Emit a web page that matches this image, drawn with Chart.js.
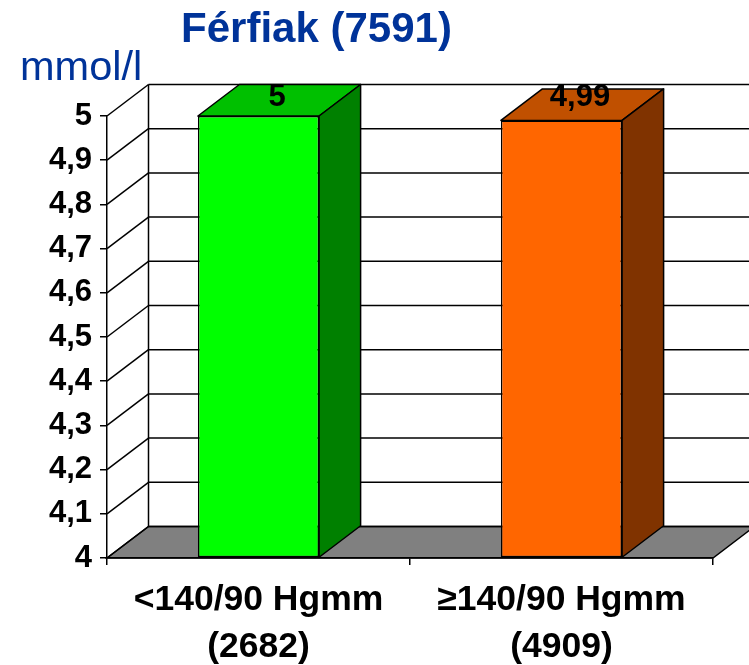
<!DOCTYPE html>
<html>
<head>
<meta charset="utf-8">
<title>Férfiak (7591)</title>
<style>
  html, body { margin: 0; padding: 0; background: #fff; overflow: hidden; }
  #wrap { width: 749px; height: 665px; }
</style>
<script src="https://cdn.jsdelivr.net/npm/chart.js@4/dist/chart.umd.min.js"></script>
</head>
<body>
<div id="wrap"><canvas id="chart" width="749" height="665"></canvas></div>
<script>
/* global Chart */

const chartTitle = 'Férfiak (7591)'
const unitLabel = 'mmol/l'
const categories = [['<140/90 Hgmm', '(2682)'], ['≥140/90 Hgmm', '(4909)']]
const values = [5, 4.99]
const valueLabels = ['5', '4,99']
const yTickLabels = ['4', '4,1', '4,2', '4,3', '4,4', '4,5', '4,6', '4,7', '4,8', '4,9', '5']

const FONT = '"Liberation Sans", Arial, sans-serif'
const BLUE = '#003399'
const FRONT = ['#00ff00', '#ff6600']
const TOP = ['#00c000', '#c05000']
const SIDE = ['#008000', '#803300']

// depth of the fake 3d box
const DX = 41.5
const DY = -31.5

function poly (ctx, pts, fill) {
  ctx.beginPath()
  pts.forEach((p, i) => i ? ctx.lineTo(p[0], p[1]) : ctx.moveTo(p[0], p[1]))
  ctx.closePath()
  if (fill) {
    ctx.fillStyle = fill
    ctx.fill()
  }
  ctx.stroke()
}

function line (ctx, x1, y1, x2, y2) {
  ctx.beginPath()
  ctx.moveTo(x1, y1)
  ctx.lineTo(x2, y2)
  ctx.stroke()
}

const box3d = {
  id: 'box3d',
  beforeDraw (chart) {
    const { ctx, chartArea: a, scales: { y } } = chart
    ctx.save()
    ctx.strokeStyle = '#000'
    ctx.lineWidth = 1.5
    // floor
    poly(ctx, [[a.left, a.bottom], [a.right, a.bottom], [a.right + DX, a.bottom + DY], [a.left + DX, a.bottom + DY]], '#808080')
    // side wall and back wall lines
    line(ctx, a.left + DX, a.top + DY, a.left + DX, a.bottom + DY)
    y.ticks.forEach(t => {
      const py = y.getPixelForValue(t.value)
      line(ctx, a.left, py, a.left + DX, py + DY)
      line(ctx, a.left + DX, py + DY, a.right + DX, py + DY)
    })
    ctx.restore()
  },
  beforeDatasetsDraw (chart) {
    const { ctx } = chart
    ctx.save()
    ctx.strokeStyle = '#000'
    ctx.lineWidth = 1.5
    ctx.lineJoin = 'round'
    chart.getDatasetMeta(0).data.forEach((bar, i) => {
      const l = bar.x - bar.width / 2
      const r = bar.x + bar.width / 2
      poly(ctx, [[l, bar.y], [r, bar.y], [r + DX, bar.y + DY], [l + DX, bar.y + DY]], TOP[i])
      poly(ctx, [[r, bar.y], [r + DX, bar.y + DY], [r + DX, bar.base + DY], [r, bar.base]], SIDE[i])
    })
    ctx.restore()
  },
  afterDraw (chart) {
    const { ctx, scales: { y } } = chart
    ctx.save()
    ctx.textBaseline = 'alphabetic'
    ctx.textAlign = 'center'
    ctx.fillStyle = '#000'
    ctx.font = 'bold 31px ' + FONT
    chart.getDatasetMeta(0).data.forEach((bar, i) => {
      ctx.fillText(valueLabels[i], bar.x + 18.5, y.getPixelForValue(5) - 10.5)
    })
    ctx.fillStyle = BLUE
    ctx.font = 'bold 42px ' + FONT
    ctx.fillText(chartTitle, 316.5, 41.5)
    ctx.textAlign = 'left'
    ctx.font = '41.5px ' + FONT
    ctx.fillText(unitLabel, 20, 80)
    ctx.restore()
  }
}

window.addEventListener('DOMContentLoaded', () => {
  new Chart(document.getElementById('chart').getContext('2d'), {
    type: 'bar',
    data: {
      labels: categories,
      datasets: [{
        data: values,
        base: 4,
        backgroundColor: FRONT,
        borderColor: '#000',
        borderWidth: 1.5,
        borderSkipped: false,
        barPercentage: 0.4,
        categoryPercentage: 1,
        clip: false
      }]
    },
    options: {
      responsive: false,
      animation: false,
      layout: { padding: { top: 116, right: 36, left: 0, bottom: 0 } },
      plugins: { legend: { display: false }, title: { display: false }, tooltip: { enabled: false } },
      scales: {
        x: {
          afterFit (s) { s.height = 107 },
          border: { color: '#000', width: 1.5 },
          grid: { drawOnChartArea: false, drawTicks: true, tickLength: 7, color: '#000', lineWidth: 1.5 },
          ticks: {
            autoSkip: false,
            maxRotation: 0,
            padding: 12,
            color: '#000',
            font: { family: FONT, size: 35.5, weight: 'bold', lineHeight: 1.32 }
          }
        },
        y: {
          min: 4,
          max: 5,
          afterFit (s) { s.width = 107 },
          border: { color: '#000', width: 1.5 },
          grid: { drawOnChartArea: false, drawTicks: true, tickLength: 7, color: '#000', lineWidth: 1.5 },
          ticks: {
            stepSize: 0.1,
            padding: 8,
            color: '#000',
            font: { family: FONT, size: 31, weight: 'bold' },
            callback: (v, i) => yTickLabels[i]
          }
        }
      }
    },
    plugins: [box3d]
  })
})
</script>
</body>
</html>
